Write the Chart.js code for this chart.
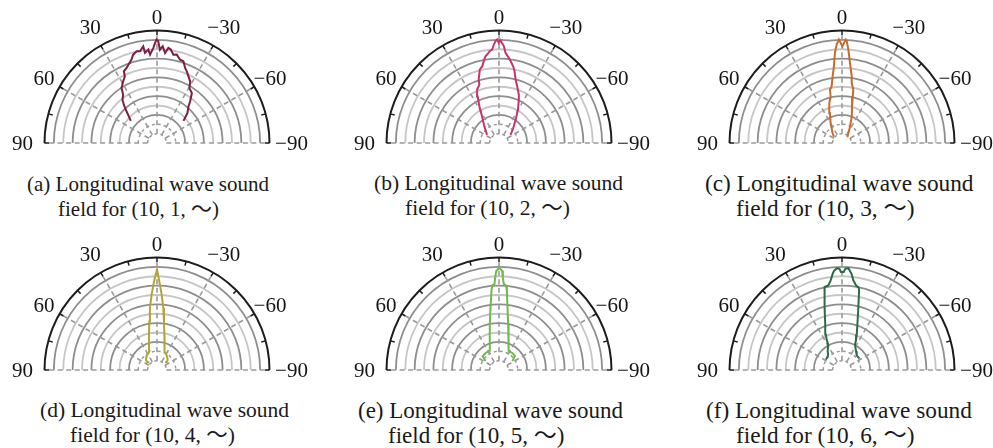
<!DOCTYPE html>
<html>
<head>
<meta charset="utf-8">
<script src="https://cdn.jsdelivr.net/npm/chart.js@4/dist/chart.umd.min.js"></script>
<style>
  html, body { margin: 0; padding: 0; background: #ffffff; }
  body { width: 993px; height: 448px; position: relative; overflow: hidden; }
  canvas.panel { position: absolute; }
  .cap {
    position: absolute; white-space: nowrap;
    font-family: "Liberation Serif", "Noto Sans CJK SC", serif;
    color: #1a1a1a;
  }
</style>
</head>
<body>
<script>
// Radial scale: levels in dB, centre of the plot = FLOOR_DB, outer ring = 0 dB
const FLOOR_DB = -60;
const RING_STEP_DB = 5;
const angleTicks = [90, 60, 30, 0, -30, -60, -90];

// (10, 1, ~)
const anglesA = [49.8, 45.7, 43.2, 41.0, 38.6, 35.1, 32.8, 28.8, 25.8, 24.8, 22.1, 17.0, 15.1, 12.5, 10.5, 8.1, 7.6, 5.3, 4.5, 2.2, 1.1, 0.2, -0.7, -1.8, -3.4, -5.1, -6.8, -8.4, -10.5, -12.6, -15.5, -17.9, -20.5, -22.6, -25.3, -28.3, -30.6, -34.9, -38.6, -40.8, -45.6, -50.1];
const levelsA = [-41.7, -38.5, -35.7, -33.1, -30.5, -28.6, -25.1, -22.5, -20.6, -17.9, -16.8, -13.5, -11.2, -9.9, -10.2, -7.9, -11.5, -10.0, -12.7, -9.2, -6.6, -4.8, -5.7, -10.2, -8.3, -11.8, -8.9, -9.6, -12.1, -11.7, -13.9, -14.2, -17.2, -18.6, -20.7, -22.7, -26.0, -27.5, -31.7, -34.3, -37.3, -41.6];

// (10, 2, ~)
const anglesB = [55.9, 41.7, 32.6, 28.2, 24.6, 22.4, 18.6, 17.8, 14.7, 12.4, 10.6, 8.9, 7.6, 5.8, 4.2, 3.0, 2.0, 1.0, 0.1, -0.8, -2.9, -4.1, -6.6, -8.1, -10.5, -12.3, -14.7, -17.9, -22.4, -24.7, -29.7, -35.7, -44.0, -55.2];
const levelsB = [-52.3, -48.3, -43.3, -37.9, -32.7, -29.3, -27.2, -24.5, -19.6, -18.2, -15.7, -13.2, -12.4, -10.8, -10.1, -7.4, -5.7, -4.8, -6.6, -5.2, -8.4, -11.8, -14.3, -16.0, -18.4, -20.9, -25.1, -28.3, -32.2, -34.7, -39.6, -44.8, -49.1, -52.5];

// (10, 3, ~)
const anglesC = [51.8, 43.9, 29.9, 22.0, 17.7, 13.7, 12.8, 10.4, 8.0, 6.0, 4.5, 3.1, 1.7, -0.2, -2.1, -2.7, -3.9, -5.7, -8.3, -9.2, -12.0, -13.0, -15.4, -20.2, -26.1, -33.0, -43.0];
const levelsC = [-54.5, -52.8, -47.8, -42.9, -37.7, -34.4, -30.9, -29.3, -24.1, -18.9, -11.8, -7.4, -4.8, -8.4, -4.8, -5.7, -10.1, -17.1, -24.1, -27.6, -31.0, -34.6, -39.8, -45.0, -50.3, -53.8, -55.8];

// (10, 4, ~)
const anglesD = [45.0, 51.6, 47.7, 35.8, 22.8, 17.7, 12.9, 9.0, 6.5, 4.1, 1.9, 0.0, -1.5, -3.6, -5.8, -8.2, -11.8, -17.1, -21.8, -34.1, -46.9, -51.6, -46.1];
const levelsD = [-54.2, -53.4, -52.0, -50.6, -49.3, -46.0, -40.8, -33.8, -26.7, -19.7, -12.6, -6.4, -12.7, -19.8, -26.8, -33.9, -40.8, -46.0, -49.4, -50.7, -52.2, -53.4, -54.1];

// (10, 5, ~)
const anglesE = [56.3, 52.4, 49.2, 38.9, 27.3, 18.0, 11.5, 7.8, 5.5, 4.6, 3.0, 2.4, 1.6, 0.0, -1.8, -2.4, -3.2, -4.9, -5.7, -7.8, -11.5, -18.0, -27.3, -38.9, -48.5, -51.7, -55.7];
const levelsE = [-51.3, -49.8, -48.5, -48.5, -48.5, -44.0, -35.4, -26.6, -17.8, -14.8, -14.0, -10.8, -7.3, -5.5, -7.0, -10.8, -14.0, -14.8, -17.8, -26.6, -35.4, -44.0, -48.5, -48.5, -48.7, -49.9, -51.4];

// (10, 6, ~)
const anglesF = [57.2, 43.0, 37.4, 28.4, 26.8, 24.4, 20.2, 15.6, 12.7, 11.6, 9.2, 7.2, 5.5, 4.6, 3.0, 1.5, 0.6, -1.0, -1.9, -3.6, -4.6, -5.8, -7.2, -9.4, -11.5, -12.2, -14.7, -18.7, -22.6, -24.8, -27.2, -36.8, -45.0, -56.8];
const levelsF = [-49.8, -49.2, -47.4, -44.6, -41.8, -39.2, -34.1, -25.5, -16.8, -14.8, -14.3, -11.8, -8.4, -7.0, -5.7, -5.9, -7.7, -7.7, -5.9, -5.6, -7.0, -8.7, -11.8, -14.2, -15.2, -16.9, -25.7, -34.4, -39.5, -42.1, -44.8, -47.5, -48.9, -48.9];

const captionLine1 = [
  '(a) Longitudinal wave sound', '(b) Longitudinal wave sound', '(c) Longitudinal wave sound',
  '(d) Longitudinal wave sound', '(e) Longitudinal wave sound', '(f) Longitudinal wave sound'
];
const captionLine2 = [
  'field for (10, 1, ～)', 'field for (10, 2, ～)', 'field for (10, 3, ～)',
  'field for (10, 4, ～)', 'field for (10, 5, ～)', 'field for (10, 6, ～)'
];

const panels = [
  { angles: anglesA, levels: levelsA, color: '#7b1f45', cx: 157,   cy: 143, cap1x: 27,  cap2x: 58,  capSize: 21 },
  { angles: anglesB, levels: levelsB, color: '#c8336f', cx: 498.5, cy: 143, cap1x: 374, cap2x: 405, capSize: 21.5 },
  { angles: anglesC, levels: levelsC, color: '#c96a2c', cx: 842,   cy: 143, cap1x: 705, cap2x: 736, capSize: 23.3 },
  { angles: anglesD, levels: levelsD, color: '#b3a437', cx: 157,   cy: 370, cap1x: 40,  cap2x: 70,  capSize: 21.5 },
  { angles: anglesE, levels: levelsE, color: '#72b84a', cx: 498.5, cy: 370, cap1x: 358, cap2x: 388, capSize: 23 },
  { angles: anglesF, levels: levelsF, color: '#2d6a48', cx: 842,   cy: 370, cap1x: 706, cap2x: 736, capSize: 23.3 }
];

const OUTER_R = 112.5;          // outer ring radius in px
const BOX_W = 330, BOX_H = 165; // canvas size per panel
const BOX_LEFT = 165, BOX_UP = 145;
const LABEL_FONT = '21px "Liberation Serif", serif';

const tickText = v => (v < 0 ? '\u2212' + Math.abs(v) : String(v));
const labelGap = { 0: 14, 30: 21, 60: 18, 90: 22 };

// half-plane polar grid drawn behind the curve
const polarGrid = {
  id: 'polarGrid',
  beforeDatasetsDraw(chart) {
    const { ctx } = chart;
    const xs = chart.scales.x, ys = chart.scales.y;
    const cx = xs.getPixelForValue(0), cy = ys.getPixelForValue(0);
    const R = xs.getPixelForValue(1) - cx;
    const nRings = -FLOOR_DB / RING_STEP_DB;
    const ringR = k => R * k / nRings;
    ctx.save();

    // solid rings
    for (let k = 3; k < nRings; k++) {
      ctx.beginPath();
      ctx.arc(cx, cy, ringR(k), Math.PI, 2 * Math.PI);
      ctx.strokeStyle = (k % 2 === 1) ? '#8e8e8e' : '#c6c6c6';
      ctx.lineWidth = 1.8;
      ctx.stroke();
    }
    // dashed inner rings
    ctx.setLineDash([3, 3]);
    ctx.strokeStyle = '#9a9a9a';
    ctx.lineWidth = 1.5;
    for (let k = 1; k <= 2; k++) {
      ctx.beginPath();
      ctx.arc(cx, cy, ringR(k), Math.PI, 2 * Math.PI);
      ctx.stroke();
    }
    // dashed spokes
    ctx.setLineDash([5, 3.5]);
    ctx.strokeStyle = '#9a9a9a';
    ctx.lineWidth = 1.6;
    angleTicks.forEach(a => {
      const t = a * Math.PI / 180;
      const sx = -Math.sin(t), sy = -Math.cos(t);
      ctx.beginPath();
      ctx.moveTo(cx + sx * ringR(1), cy + sy * ringR(1));
      ctx.lineTo(cx + sx * R, cy + sy * R);
      ctx.stroke();
    });
    ctx.setLineDash([]);

    // outer frame
    ctx.beginPath();
    ctx.arc(cx, cy, R, Math.PI, 2 * Math.PI);
    ctx.strokeStyle = '#1c1c1c';
    ctx.lineWidth = 2;
    ctx.stroke();
    ctx.lineWidth = 1.5;
    for (let a = -90; a <= 90; a += 15) {
      const t = a * Math.PI / 180;
      const sx = -Math.sin(t), sy = -Math.cos(t);
      ctx.beginPath();
      ctx.moveTo(cx + sx * R, cy + sy * R);
      ctx.lineTo(cx + sx * (R - 4.5), cy + sy * (R - 4.5));
      ctx.stroke();
    }

    // angle labels
    ctx.font = LABEL_FONT;
    ctx.fillStyle = '#151515';
    ctx.textAlign = 'center';
    ctx.textBaseline = 'alphabetic';
    angleTicks.forEach(a => {
      const t = a * Math.PI / 180;
      const d = R + labelGap[Math.abs(a)];
      const lx = cx - Math.sin(t) * d;
      const ly = cy - Math.cos(t) * d;
      ctx.fillText(tickText(a), lx, ly + 7);
    });
    ctx.restore();
  }
};

function addCaption(text, left, baseline, size) {
  const el = document.createElement('div');
  el.className = 'cap';
  el.textContent = text;
  el.style.fontSize = size + 'px';
  el.style.lineHeight = size + 'px';
  el.style.left = left + 'px';
  el.style.top = (baseline - 0.838 * size) + 'px';
  document.body.appendChild(el);
}

panels.forEach((p, i) => {
  const cv = document.createElement('canvas');
  cv.className = 'panel';
  cv.width = BOX_W; cv.height = BOX_H;
  cv.style.left = (p.cx - BOX_LEFT) + 'px';
  cv.style.top = (p.cy - BOX_UP) + 'px';
  cv.style.width = BOX_W + 'px'; cv.style.height = BOX_H + 'px';
  document.body.appendChild(cv);

  const pts = p.angles.map((a, j) => {
    const rho = (p.levels[j] - FLOOR_DB) / (-FLOOR_DB);
    const t = a * Math.PI / 180;
    return { x: -rho * Math.sin(t), y: rho * Math.cos(t) };
  });

  new Chart(cv, {
    type: 'scatter',
    data: { datasets: [{
      data: pts, showLine: true, borderColor: p.color, backgroundColor: p.color,
      borderWidth: 2, pointRadius: 0, tension: 0, fill: false, clip: false,
      borderJoinStyle: 'miter'
    }] },
    options: {
      responsive: false, maintainAspectRatio: false, animation: false, events: [],
      layout: { padding: 0 },
      plugins: { legend: { display: false }, tooltip: { enabled: false }, title: { display: false } },
      scales: {
        x: { type: 'linear', display: false, min: -BOX_LEFT / OUTER_R, max: (BOX_W - BOX_LEFT) / OUTER_R },
        y: { type: 'linear', display: false, min: -(BOX_H - BOX_UP) / OUTER_R, max: BOX_UP / OUTER_R }
      }
    },
    plugins: [polarGrid]
  });

  addCaption(captionLine1[i], p.cap1x, p.cy + 48.5, p.capSize);
  addCaption(captionLine2[i], p.cap2x, p.cy + 73.5, p.capSize);
});
</script>
</body>
</html>
